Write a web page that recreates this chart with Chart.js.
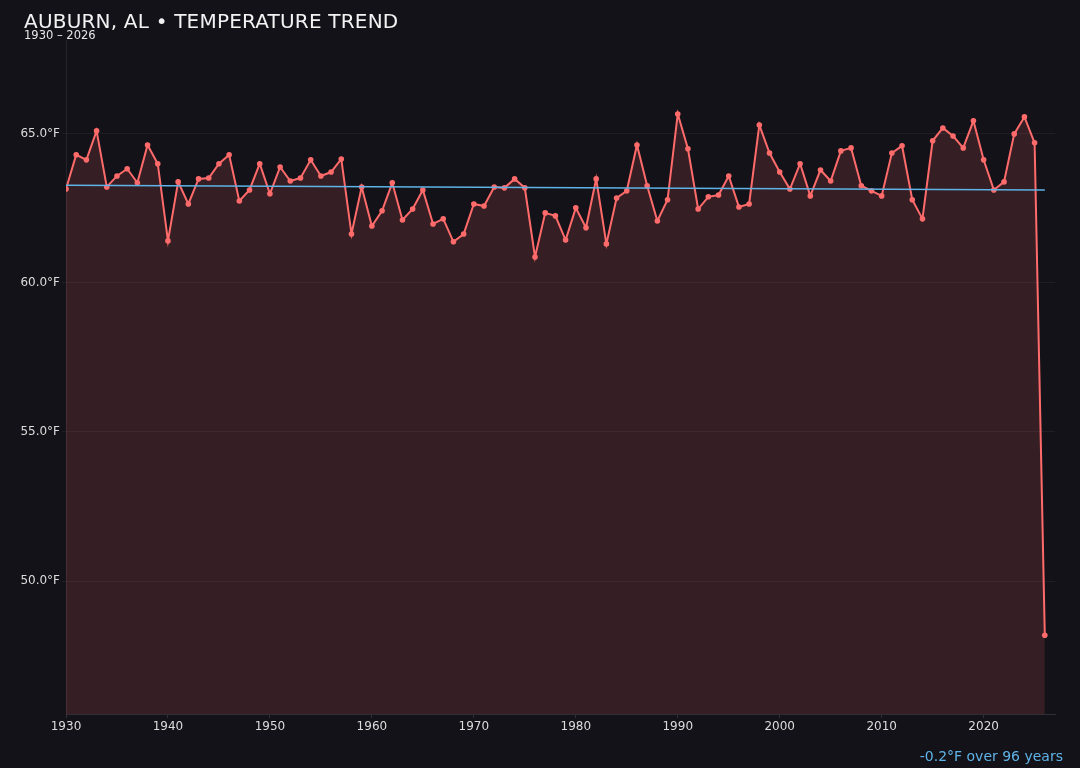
<!DOCTYPE html>
<html>
<head>
<meta charset="utf-8">
<script src="https://cdn.jsdelivr.net/npm/chart.js@4/dist/chart.umd.min.js"></script>
<style>
  html, body { margin: 0; padding: 0; background: #131218; }
  body { width: 1080px; height: 768px; position: relative; overflow: hidden; font-family: "DejaVu Sans", sans-serif; }
  #wrap { position: absolute; left: 0; top: 0; width: 1080px; height: 768px; }
  #title { position: absolute; left: 24px; top: 9px; color: #f2f2f2; font-size: 20px; letter-spacing: 0.2px; }
  #sub { position: absolute; left: 24px; top: 28px; color: #e6e6e6; font-size: 11.5px; }
  #note { position: absolute; right: 17px; top: 748px; color: #5fb3e6; font-size: 14px; }
</style>
</head>
<body>
<div id="wrap"><canvas id="myChart" width="1080" height="768"></canvas></div>
<div id="title">AUBURN, AL • TEMPERATURE TREND</div>
<div id="sub">1930 – 2026</div>
<div id="note">-0.2°F over 96 years</div>
<script>
// yearly mean temperature, °F
const years = [];
for (let y = 1930; y <= 2026; y++) years.push(y);

const temps = [
  63.15, 64.30, 64.13, 65.10, 63.22, 63.59, 63.83, 63.36, 64.63, 64.00,
  61.41, 63.39, 62.65, 63.49, 63.52, 64.00, 64.30, 62.75, 63.12, 64.00,
  62.99, 63.89, 63.42, 63.52, 64.13, 63.59, 63.72, 64.16, 61.64, 63.22,
  61.91, 62.42, 63.36, 62.11, 62.48, 63.12, 61.98, 62.15, 61.38, 61.64,
  62.65, 62.58, 63.22, 63.19, 63.49, 63.19, 60.87, 62.35, 62.25, 61.44,
  62.52, 61.85, 63.49, 61.31, 62.85, 63.09, 64.63, 63.26, 62.08, 62.79,
  65.67, 64.50, 62.48, 62.89, 62.95, 63.59, 62.55, 62.65, 65.30, 64.36,
  63.72, 63.15, 64.00, 62.92, 63.79, 63.42, 64.43, 64.53, 63.26, 63.09,
  62.92, 64.36, 64.60, 62.79, 62.15, 64.77, 65.20, 64.93, 64.53, 65.44,
  64.13, 63.12, 63.39, 65.00, 65.57, 64.70, 48.18
];

// linear trend, start and end
const trendYears = [1930, 2026];
const trendTemps = [63.28, 63.12];

const yTicks = [50, 55, 60, 65];
const xTicks = [1930, 1940, 1950, 1960, 1970, 1980, 1990, 2000, 2010, 2020];

const tempPoints = years.map((y, i) => ({ x: y, y: temps[i] }));
const trendPoints = trendYears.map((y, i) => ({ x: y, y: trendTemps[i] }));

const ctx = document.getElementById('myChart').getContext('2d');

new Chart(ctx, {
  type: 'line',
  data: {
    datasets: [
      {
        label: 'Trend',
        data: trendPoints,
        borderColor: '#5fb3e6',
        borderWidth: 1.5,
        pointRadius: 0,
        fill: false,
        order: 0,
      },
      {
        label: 'Temperature',
        data: tempPoints,
        borderColor: '#ff6b6b',
        backgroundColor: 'rgba(255, 107, 107, 0.15)',
        borderWidth: 2,
        pointRadius: 2.8,
        pointBackgroundColor: '#ff6b6b',
        pointBorderWidth: 0,
        fill: 'start',
        tension: 0,
        order: 1,
      },
    ],
  },
  options: {
    responsive: false,
    animation: false,
    layout: { padding: { left: 0, top: 40, right: 25, bottom: 0 } },
    plugins: {
      legend: { display: false },
      tooltip: { enabled: false },
    },
    scales: {
      x: {
        type: 'linear',
        min: 1930,
        max: 2027,
        afterBuildTicks: (scale) => { scale.ticks = xTicks.map((v) => ({ value: v })); },
        afterFit: (scale) => { scale.height = 54; },
        grid: {
          drawOnChartArea: false,
          drawTicks: true,
          tickLength: 4,
          color: 'rgba(255,255,255,0.12)',
        },
        border: { color: 'rgba(255,255,255,0.12)' },
        ticks: {
          color: '#dcdcdc',
          font: { family: 'DejaVu Sans', size: 12 },
          padding: 2,
          maxRotation: 0,
          callback: (v) => String(v),
        },
      },
      y: {
        min: 45.54,
        max: 68.15,
        afterBuildTicks: (scale) => { scale.ticks = yTicks.map((v) => ({ value: v })); },
        afterFit: (scale) => { scale.width = 66; },
        grid: {
          color: 'rgba(255,255,255,0.05)',
          tickLength: 4,
        },
        border: { color: 'rgba(255,255,255,0.08)' },
        ticks: {
          color: '#dcdcdc',
          font: { family: 'DejaVu Sans', size: 12 },
          padding: 2,
          callback: (v) => v.toFixed(1) + '°F',
        },
      },
    },
  },
});
</script>
</body>
</html>
